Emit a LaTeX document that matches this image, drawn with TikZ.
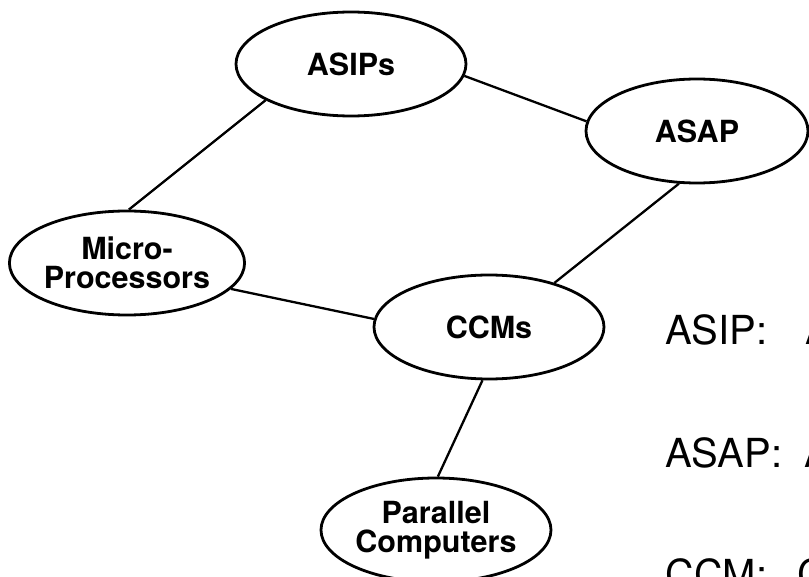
\documentclass[tikz,border=0pt]{standalone}
\usepackage{fontspec}
\setmainfont{TeX Gyre Heros}
\usetikzlibrary{positioning,shapes.geometric}

\begin{document}
\begin{tikzpicture}[x=1pt,y=-1pt,
  topic/.style={shape=ellipse,draw,line width=2.8pt,inner sep=0pt,
    minimum width=230pt,minimum height=104pt,align=center,
    font=\fontsize{30.5}{29.5}\selectfont\bfseries},
  defn/.style={anchor=base west,inner sep=0pt,font=\fontsize{40}{44}\selectfont},
  link/.style={line width=2.3pt}
]
\useasboundingbox (0,0) rectangle (809,577);
\clip (0,0) rectangle (809,577);
\node[topic] (asips) at (351,64) {ASIPs};
\node[topic,minimum width=222pt] (asap) at (697,131) {ASAP};
\node[topic] (micro) at (127,263) {Micro-\\Processors};
\node[topic] (ccms) at (489,327) {CCMs};
\node[topic] (parallel) at (436,530) {Parallel\\Computers};

\draw[link] (asips.-6) -- (asap.175);
\draw[link] (asips.-157) -- (micro.88);
\draw[link] (micro.-14) -- (ccms.176);
\draw[link] (asap.-109) -- (ccms.34);
\draw[link] (ccms.-97) -- (parallel.88);

\node[defn] (asipdef) at (665,345) {ASIP:\hspace{38pt}A};
\node[defn] (asapdef) at (665,467) {ASAP:\hspace{22pt}A};
\node[defn] (ccmdef) at (665,588) {CCM:\hspace{30pt}C};
\end{tikzpicture}
\end{document}
